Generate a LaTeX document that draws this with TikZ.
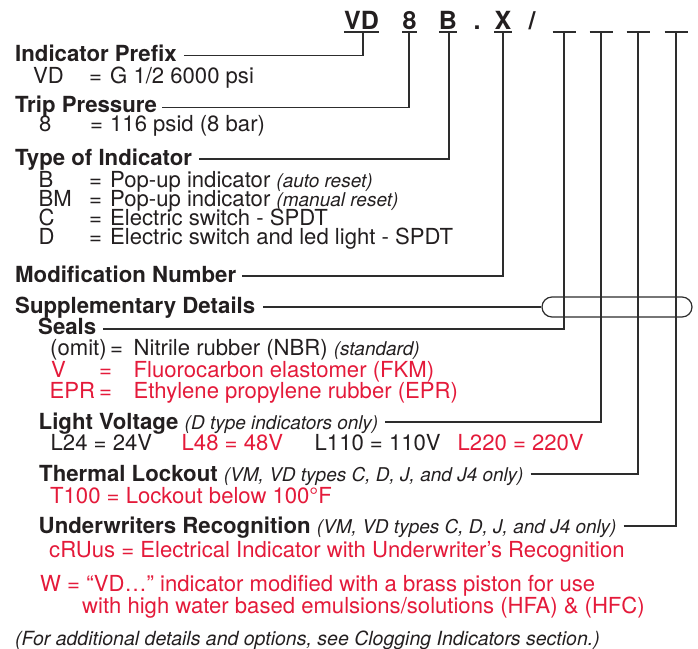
\documentclass[tikz,border=0pt]{standalone}
\usepackage{fontspec}
\setmainfont{TeX Gyre Heros}
\definecolor{ink}{RGB}{35,31,32}
\definecolor{redt}{RGB}{228,26,58}
\definecolor{linec}{RGB}{45,45,45}
\newcommand{\itx}[1]{{\mdseries\itshape\fontsize{19}{19}\selectfont #1}}
\begin{document}
\begin{tikzpicture}[x=1pt,y=-1pt,
  base/.style={inner sep=0pt, anchor=base west, text=ink},
  head/.style={base, text height=15.8pt, text depth=4.6pt, font=\bfseries\fontsize{22.2}{22}\selectfont},
  txt/.style={base, text height=13.5pt, text depth=4.4pt, font=\fontsize{22.1}{22}\selectfont},
  rtxt/.style={txt, text=redt},
  foot/.style={base, text height=13.5pt, text depth=4.4pt, font=\itshape\fontsize{19.5}{20}\selectfont},
  codech/.style={inner sep=0pt, anchor=base, text=ink, font=\bfseries\fontsize{25}{25}\selectfont},
  conn/.style={draw=linec, line width=1.2pt},
  uline/.style={draw=linec, line width=1.4pt}
]
\useasboundingbox (0,0) rectangle (698,648);

% ---- code line ----
\node[codech] (cVD) at (361.5,29) {VD};
\node[codech] (c8)  at (409.5,29) {8};
\node[codech] (cB)  at (448,29) {B};
\node[codech] (cdot) at (477,29) {.};
\node[codech] (cX)  at (503,29) {X};
\node[codech] (csl) at (532,29) {/};
\coordinate (tVD) at (363,32);
\coordinate (t8)  at (409,32);
\coordinate (tB)  at (449,32);
\coordinate (tX)  at (503,32);
\coordinate (b1) at (564,32);
\coordinate (b2) at (601,32);
\coordinate (b3) at (638,32);
\coordinate (b4) at (676,32);
\draw[uline] (cVD.base west |- tVD) -- (cVD.base east |- tVD);
\draw[uline] (c8.base west |- t8) -- (c8.base east |- t8);
\draw[uline] (cB.base west |- tB) -- (cB.base east |- tB);
\draw[uline] (cX.base west |- tX) -- (cX.base east |- tX);
\foreach \b in {b1,b2,b3,b4}{
  \draw[uline] ([xshift=-11.5pt]\b) -- ([xshift=11.5pt]\b);
}

% ---- Indicator prefix ----
\node[head] (hIP) at (15,61) {Indicator Prefix};
\node[txt] (vdc) at (33,83) {VD};
\node[txt] (vde) at (89,83) {=};
\node[txt] (vdd) at (110,83) {G 1/2 6000 psi};

% ---- Trip pressure ----
\node[head] (hTP) at (15,112) {Trip Pressure};
\node[txt] (tpc) at (39,131) {8};
\node[txt] (tpe) at (90,131) {=};
\node[txt] (tpd) at (110,131) {116 psid (8 bar)};

% ---- Type of indicator ----
\node[head] (hTI) at (15,165) {Type of Indicator};
\node[txt] (ti1c) at (38.5,187) {B};
\node[txt] (ti1e) at (89,187) {=};
\node[txt] (ti1d) at (110,187) {Pop-up indicator \itx{(auto reset)}};
\node[txt] (ti2c) at (38.5,206) {BM};
\node[txt] (ti2e) at (89,206) {=};
\node[txt] (ti2d) at (110,206) {Pop-up indicator \itx{(manual reset)}};
\node[txt] (ti3c) at (38.5,225) {C};
\node[txt] (ti3e) at (89,225) {=};
\node[txt] (ti3d) at (110,225) {Electric switch - SPDT};
\node[txt] (ti4c) at (38.5,244) {D};
\node[txt] (ti4e) at (89,244) {=};
\node[txt] (ti4d) at (110,244) {Electric switch and led light - SPDT};

% ---- Modification ----
\node[head] (hMN) at (15,282) {Modification Number};

% ---- Supplementary ----
\node[head] (hSD) at (15,313) {Supplementary Details};
\node[draw=linec, line width=1.2pt, rounded corners=10pt, minimum width=150pt, minimum height=20pt, inner sep=0pt] (oval) at (617,307) {};

\node[head] (hSe) at (38,334) {Seals};
\node[txt] (s1c) at (50,355) {(omit)};
\node[txt] (s1e) at (110,355) {=};
\node[txt] (s1d) at (133.5,355) {Nitrile rubber (NBR) \itx{(standard)}};
\node[rtxt] (s2c) at (51,377) {V};
\node[rtxt] (s2e) at (99,377) {=};
\node[rtxt] (s2d) at (133.5,377) {Fluorocarbon elastomer (FKM)};
\node[rtxt] (s3c) at (49.5,398) {EPR};
\node[rtxt] (s3e) at (99,398) {=};
\node[rtxt] (s3d) at (133.5,398) {Ethylene propylene rubber (EPR)};

\node[head] (hLV) at (38.5,429) {Light Voltage \itx{(D type indicators only)}};
\node[txt] (l1) at (50.5,450) {L24 = 24V};
\node[rtxt] (l2) at (181.5,450) {L48 = 48V};
\node[txt] (l3) at (314.5,450) {L110 = 110V};
\node[rtxt] (l4) at (457.5,450) {L220 = 220V};

\node[head] (hTL) at (39,481) {Thermal Lockout \itx{(VM, VD types C, D, J, and J4 only)}};
\node[rtxt] (t1) at (50,503) {T100 = Lockout below 100°F};

\node[head] (hUR) at (38.5,533) {Underwriters Recognition \itx{(VM, VD types C, D, J, and J4 only)}};
\node[rtxt] (u1) at (49,557) {cRUus = Electrical Indicator with Underwriter’s Recognition};

\node[rtxt] (w1) at (40,591) {W = “VD…” indicator modified with a brass piston for use};
\node[rtxt] (w2) at (82,613) {with high water based emulsions/solutions (HFA) \& (HFC)};

\node[foot] (fn) at (15,645) {(For additional details and options, see Clogging Indicators section.)};

% ---- connectors ----
\draw[conn] ([shift={(7pt,5.5pt)}]hIP.base east) -| (tVD);
\draw[conn] ([shift={(5pt,4.5pt)}]hTP.base east) -| (t8);
\draw[conn] ([shift={(7pt,6pt)}]hTI.base east) -| (tB);
\draw[conn] ([shift={(6pt,6pt)}]hMN.base east) -| (tX);
\draw[conn] ([shift={(8pt,6pt)}]hSD.base east) -- (oval.west);
\draw[conn] ([shift={(7pt,5pt)}]hSe.base east) -| (b1);
\draw[conn] ([shift={(7pt,7pt)}]hLV.base east) -| (b2);
\draw[conn] ([shift={(7pt,7pt)}]hTL.base east) -| (b3);
\draw[conn] ([shift={(7pt,7pt)}]hUR.base east) -| (b4);
\end{tikzpicture}
\end{document}
